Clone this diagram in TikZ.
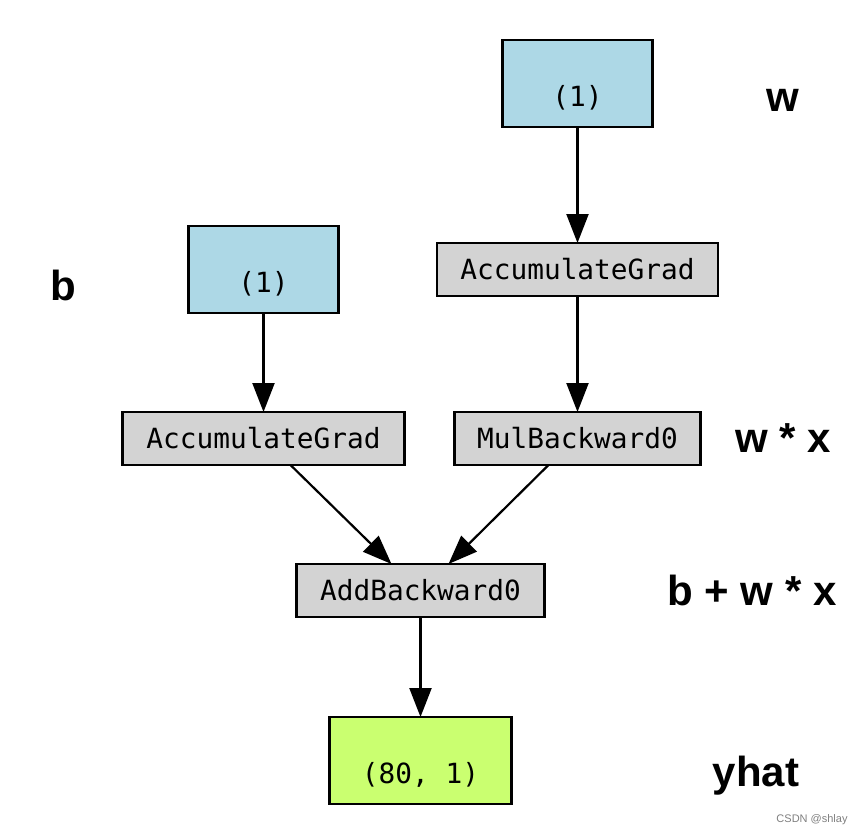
\documentclass[tikz,border=0pt]{standalone}
\usepackage{fontspec}
\setmainfont{Liberation Sans}
\newfontfamily\monofont{DejaVu Sans Mono}
\usepackage{tikz}
\usetikzlibrary{arrows.meta,positioning,calc}
\definecolor{leafblue}{RGB}{173,216,230}
\definecolor{opgray}{RGB}{211,211,211}
\definecolor{outgreen}{RGB}{202,255,112}
\tikzset{
  opbox/.style  ={rectangle, draw=black, line width=2.2pt, fill=opgray, outer sep=0pt,
                  minimum height=53pt, font=\monofont\fontsize{27.8}{30}\selectfont},
  valbox/.style ={rectangle, draw=black, line width=2.2pt, fill=leafblue, outer sep=0pt,
                  minimum width=150pt, minimum height=87pt, text height=52pt, text depth=7pt,
                  font=\monofont\fontsize{27.8}{30}\selectfont},
  outbox/.style ={valbox, fill=outgreen, minimum width=182pt},
  flow/.style   ={-{Triangle[length=29pt, width=22pt]}, line width=2.2pt, draw=black},
  tag/.style    ={font=\bfseries\fontsize{42}{46}\selectfont, inner sep=0pt}
}
\begin{document}
\begin{tikzpicture}[x=1pt, y=-1pt]
\useasboundingbox[fill=white] (0,0) rectangle (860,835);
% ---- w branch ----
\node[valbox] (wval) at (577.5,83.5) {(1)};
\node[opbox, minimum width=281pt, below=116pt of wval] (wacc) {AccumulateGrad};
\node[opbox, minimum width=246pt, below=116pt of wacc] (mul) {MulBackward0};

% ---- b branch ----
\node[opbox, minimum width=282pt, left=50pt of mul] (bacc) {AccumulateGrad};
\node[valbox, above=99pt of bacc] (bval) {(1)};

% ---- sum and output ----
\coordinate (mid) at ($(bacc.south)!0.5!(mul.south)$);
\node[opbox, minimum width=248pt, below=99pt of mid] (add) {AddBackward0};
\node[outbox, below=100pt of add] (yhat) {(80, 1)};

% ---- tags ----
\node[tag] (tw) at (783,100) {w};
\node[tag] (tb) at (63,285) {b};
\node[tag] (twx) at (783,438) {w * x};
\node[tag] (tbwx) at (752,590) {b + w * x};
\node[tag] (ty) at (756,776) {yhat};
\node[font=\fontsize{11}{12}\selectfont, text=gray, inner sep=0pt] (mark) at (812,820) {CSDN @shlay};

% ---- edges ----
\draw[flow] (wval.south) -- (wacc.north);
\draw[flow] (wacc.south) -- (mul.north);
\draw[flow] (bval.south) -- (bacc.north);
\draw[flow] ([xshift=27pt]bacc.south) -- ([xshift=-29pt]add.north);
\draw[flow] ([xshift=-29pt]mul.south) -- ([xshift=28pt]add.north);
\draw[flow] (add.south) -- (yhat.north);
\end{tikzpicture}
\end{document}
